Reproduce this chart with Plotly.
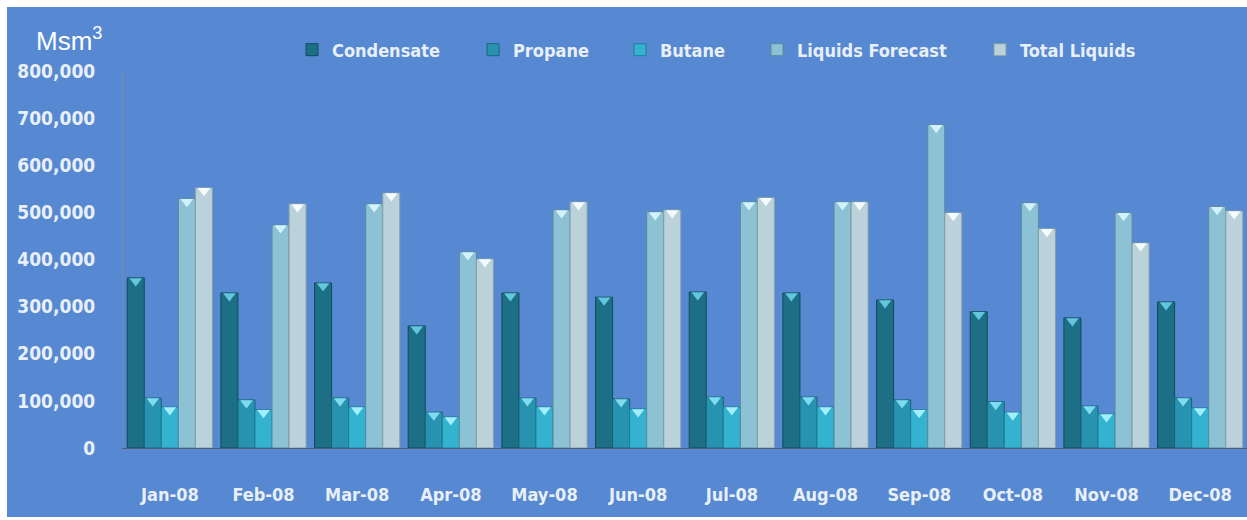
import plotly.graph_objects as go

months = ["Jan-08", "Feb-08", "Mar-08", "Apr-08", "May-08", "Jun-08",
          "Jul-08", "Aug-08", "Sep-08", "Oct-08", "Nov-08", "Dec-08"]
condensate = [361000, 329000, 350000, 259000, 329000, 320000,
              331000, 329000, 314000, 289000, 276000, 310000]
propane = [106000, 102000, 106000, 76000, 106000, 104000,
           108000, 108000, 102000, 98000, 89000, 106000]
butane = [87000, 81000, 87000, 66000, 87000, 83000,
          87000, 87000, 81000, 76000, 72000, 85000]
liquids_forecast = [529000, 473000, 518000, 416000, 505000, 501000,
                    522000, 522000, 686000, 520000, 499000, 512000]
total_liquids = [552000, 518000, 541000, 401000, 522000, 505000,
                 531000, 522000, 499000, 465000, 435000, 503000]
y_ticks = [0, 100000, 200000, 300000, 400000, 500000, 600000, 700000, 800000]
y_tick_labels = ["0", "100,000", "200,000", "300,000", "400,000",
                 "500,000", "600,000", "700,000", "800,000"]

# name, values, fill, edge, bevel highlight, legend text start (px)
series = [
    ("Condensate", condensate, "#1d6f86", "#114a5c", "#63c6dc", 332),
    ("Propane", propane, "#2893b0", "#176478", "#7fdcef", 513),
    ("Butane", butane, "#33b3d0", "#1e7f98", "#a2eefc", 660),
    ("Liquids Forecast", liquids_forecast, "#8dc2d5", "#5a8a9e", "#d2f2fb", 797),
    ("Total Liquids", total_liquids, "#bcd2da", "#869fa9", "#f4fbfd", 1020),
]

BG = "#5689d2"
FONT = "DejaVu Sans Condensed"
TXT = "#e9eff7"

W, H = 1247, 520
L, R, T, B = 123, 0, 71, 72
pw, ph = W - L - R, H - T - B
YMAX = 800000
units_per_px = YMAX / ph


def px2x(p):
    return (p - L) / pw


def px2y(p):
    return (H - B - p) / ph


fig = go.Figure()
legend_layout = {}
for i, (name, vals, col, edge, hi, txt_x) in enumerate(series):
    lg = "legend" if i == 0 else f"legend{i + 1}"
    fig.add_trace(go.Bar(
        x=months, y=vals, name=name, legend=lg,
        offsetgroup=str(i),
        marker=dict(color=col, line=dict(color=edge, width=1)),
    ))
    legend_layout[lg] = dict(
        x=px2x(txt_x - 40), y=px2y(50), xanchor="left", yanchor="middle",
        orientation="h", bgcolor="rgba(0,0,0,0)", itemwidth=30,
        font=dict(family=FONT, size=18, color=TXT, weight="bold"),
    )

# bevel highlight at the top of every bar
for i, (name, vals, col, edge, hi, txt_x) in enumerate(series):
    fig.add_trace(go.Scatter(
        x=months, y=[v - 3 * units_per_px for v in vals],
        mode="markers", showlegend=False, hoverinfo="skip",
        offsetgroup=str(i),
        marker=dict(symbol="triangle-down", size=11, color=hi,
                    line=dict(width=0)),
    ))

fig.add_shape(type="rect", xref="paper", yref="paper",
              x0=px2x(7), x1=px2x(1260), y0=px2y(517), y1=px2y(7),
              fillcolor=BG, line=dict(width=0), layer="below")

fig.add_annotation(xref="paper", yref="paper", x=px2x(34), y=px2y(40),
                   xanchor="left", yanchor="middle", showarrow=False,
                   text="Msm<sup>3</sup>",
                   font=dict(family="Liberation Sans, Arial", size=26, color="white"))

fig.update_layout(
    width=W, height=H,
    margin=dict(l=L, r=R, t=T, b=B, pad=0),
    paper_bgcolor="white",
    plot_bgcolor=BG,
    barmode="group",
    bargap=0.09,
    bargroupgap=0,
    scattermode="group",
    scattergap=0.09,
    font=dict(family=FONT, color=TXT, size=17),
    showlegend=True,
    xaxis=dict(showgrid=False, showline=True, linecolor="#4a5f7a", linewidth=1,
               ticks="", ticklabelstandoff=30,
               tickfont=dict(family=FONT, size=18, color=TXT, weight="bold")),
    yaxis=dict(range=[0, YMAX], tickvals=y_ticks, ticktext=y_tick_labels,
               showgrid=False, zeroline=False, showline=True,
               linecolor="#7a8aa5", linewidth=1, ticks="", ticklabelstandoff=23,
               tickfont=dict(family=FONT, size=19, color=TXT, weight="bold")),
    **legend_layout,
)

fig.write_html("out.html")
